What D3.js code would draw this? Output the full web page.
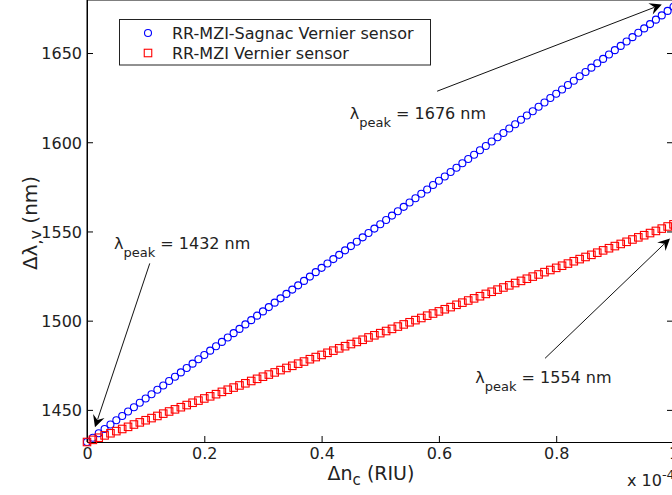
<!DOCTYPE html>
<html><head><meta charset="utf-8">
<script src="https://cdn.jsdelivr.net/npm/d3@7"></script>
<style>
body{margin:0;background:#fff}
svg{display:block}
text{font-family:"DejaVu Sans",sans-serif;fill:#222}
</style>
</head><body>
<svg id="c" width="672" height="495"></svg>
<script>
// ---------------- data ----------------
const xValues = [0,0.01,0.02,0.03,0.04,0.05,0.06,0.07,0.08,0.09,0.10,0.11,0.12,0.13,0.14,0.15,0.16,0.17,0.18,0.19,0.20,0.21,0.22,0.23,0.24,0.25,0.26,0.27,0.28,0.29,0.30,0.31,0.32,0.33,0.34,0.35,0.36,0.37,0.38,0.39,0.40,0.41,0.42,0.43,0.44,0.45,0.46,0.47,0.48,0.49,0.50,0.51,0.52,0.53,0.54,0.55,0.56,0.57,0.58,0.59,0.60,0.61,0.62,0.63,0.64,0.65,0.66,0.67,0.68,0.69,0.70,0.71,0.72,0.73,0.74,0.75,0.76,0.77,0.78,0.79,0.80,0.81,0.82,0.83,0.84,0.85,0.86,0.87,0.88,0.89,0.90,0.91,0.92,0.93,0.94,0.95,0.96,0.97,0.98,0.99,1.00];
const sagnacValues = [1432.0,1434.4,1436.9,1439.3,1441.8,1444.2,1446.6,1449.1,1451.5,1454.0,1456.4,1458.8,1461.3,1463.7,1466.2,1468.6,1471.0,1473.5,1475.9,1478.4,1480.8,1483.2,1485.7,1488.1,1490.6,1493.0,1495.4,1497.9,1500.3,1502.8,1505.2,1507.6,1510.1,1512.5,1515.0,1517.4,1519.8,1522.3,1524.7,1527.2,1529.6,1532.0,1534.5,1536.9,1539.4,1541.8,1544.2,1546.7,1549.1,1551.6,1554.0,1556.4,1558.9,1561.3,1563.8,1566.2,1568.6,1571.1,1573.5,1576.0,1578.4,1580.8,1583.3,1585.7,1588.2,1590.6,1593.0,1595.5,1597.9,1600.4,1602.8,1605.2,1607.7,1610.1,1612.6,1615.0,1617.4,1619.9,1622.3,1624.8,1627.2,1629.6,1632.1,1634.5,1637.0,1639.4,1641.8,1644.3,1646.7,1649.2,1651.6,1654.0,1656.5,1658.9,1661.4,1663.8,1666.2,1668.7,1671.1,1673.6,1676.0];
const mziValues = [1432.0,1433.2,1434.4,1435.7,1436.9,1438.1,1439.3,1440.5,1441.8,1443.0,1444.2,1445.4,1446.6,1447.9,1449.1,1450.3,1451.5,1452.7,1454.0,1455.2,1456.4,1457.6,1458.8,1460.1,1461.3,1462.5,1463.7,1464.9,1466.2,1467.4,1468.6,1469.8,1471.0,1472.3,1473.5,1474.7,1475.9,1477.1,1478.4,1479.6,1480.8,1482.0,1483.2,1484.5,1485.7,1486.9,1488.1,1489.3,1490.6,1491.8,1493.0,1494.2,1495.4,1496.7,1497.9,1499.1,1500.3,1501.5,1502.8,1504.0,1505.2,1506.4,1507.6,1508.9,1510.1,1511.3,1512.5,1513.7,1515.0,1516.2,1517.4,1518.6,1519.8,1521.1,1522.3,1523.5,1524.7,1525.9,1527.2,1528.4,1529.6,1530.8,1532.0,1533.3,1534.5,1535.7,1536.9,1538.1,1539.4,1540.6,1541.8,1543.0,1544.2,1545.5,1546.7,1547.9,1549.1,1550.3,1551.6,1552.8,1554.0];
const xTicks = [0,0.2,0.4,0.6,0.8,1];
const xTickLabels = ["0","0.2","0.4","0.6","0.8","1"];
const yTicks = [1450,1500,1550,1600,1650];
const yTickLabels = ["1450","1500","1550","1600","1650"];
const seriesNames = ["RR-MZI-Sagnac Vernier sensor","RR-MZI Vernier sensor"];
const peakValues = ["1676","1432","1554"];
// annotation anchors in data units: text point, arrow start, arrow tip
const peakTextAt  = [[0.448,1613.3],[0.046,1540.0],[0.662,1464.9]];
const arrowFrom   = [[0.597,1628.6],[0.107,1532.1],[0.781,1478.9]];
const arrowTo     = [[0.980,1677.2],[0.0136,1440.2],[0.994,1546.1]];

// ---------------- layout ----------------
const svg = d3.select("#c");
const L = 87, R = 673.5, B = 442, T = -0.5;
const x = d3.scaleLinear().domain([0,1]).range([L,R]);
const y = d3.scaleLinear().domain([1432,1680]).range([B,T]);

// frame
const frame = svg.append("g");
frame.append("line").attr("x1",L).attr("x2",L).attr("y1",0).attr("y2",B).attr("stroke","#000");
frame.append("line").attr("x1",L).attr("x2",R).attr("y1",0).attr("y2",0).attr("stroke","#000");

// axes
const xAxis = svg.append("g").attr("transform",`translate(0,${B})`)
  .call(d3.axisBottom(x).tickValues(xTicks).tickFormat((d,i)=>xTickLabels[i]).tickSizeInner(-6).tickSizeOuter(0).tickPadding(5.5));
const yAxis = svg.append("g").attr("transform",`translate(${L},0)`)
  .call(d3.axisLeft(y).tickValues(yTicks).tickFormat((d,i)=>yTickLabels[i]).tickSizeInner(-6).tickSizeOuter(0).tickPadding(5));
const yAxisR = svg.append("g").attr("transform",`translate(${R-0.5},0)`)
  .call(d3.axisRight(y).tickValues(yTicks).tickFormat("").tickSizeInner(-6).tickSizeOuter(0));
yAxisR.select(".domain").remove();
[xAxis,yAxis].forEach(g=>{
  g.select(".domain").attr("stroke","#000");
  g.selectAll("text").attr("font-size",16).attr("font-family","DejaVu Sans").attr("fill","#222");
});
yAxis.selectAll("text").attr("dy","0.36em");
svg.selectAll(".tick line").attr("stroke","#000");

// data points
const pts = xValues.map((v,i)=>({x:v, s:sagnacValues[i], m:mziValues[i]}));
svg.append("g").selectAll("circle").data(pts).join("circle")
  .attr("cx",d=>x(d.x)).attr("cy",d=>y(d.s)).attr("r",3.5)
  .attr("fill","none").attr("stroke","#0000ff").attr("stroke-width",1.1);
svg.append("g").selectAll("rect").data(pts).join("rect")
  .attr("x",d=>x(d.x)-3.75).attr("y",d=>y(d.m)-3.75).attr("width",7.5).attr("height",7.5)
  .attr("fill","none").attr("stroke","#ff0000").attr("stroke-width",1.1);

// axis labels
const xl = svg.append("text").attr("x",371).attr("y",480).attr("text-anchor","middle").attr("font-size",19);
xl.append("tspan").text("Δn");
xl.append("tspan").attr("font-size",15).attr("dy",5).text("c");
xl.append("tspan").attr("dy",-5).text(" (RIU)");

const yl = svg.append("text").attr("transform","translate(37,223) rotate(-90)").attr("text-anchor","middle").attr("font-size",20);
yl.append("tspan").text("Δλ");
yl.append("tspan").attr("font-size",16).attr("dy",4).text(",v");
yl.append("tspan").attr("dy",-4).text(" (nm)");

const ex = svg.append("text").attr("x",627).attr("y",486).attr("font-size",16);
ex.append("tspan").text("x 10");
ex.append("tspan").attr("font-size",13).attr("dy",-7).text("-4");

// legend
const lg = svg.append("g");
lg.append("rect").attr("x",119.5).attr("y",19.5).attr("width",311).attr("height",45.5)
  .attr("fill","#fff").attr("stroke","#222");
lg.append("circle").attr("cx",148).attr("cy",33).attr("r",3.5).attr("fill","none").attr("stroke","#0000ff").attr("stroke-width",1.1);
lg.append("rect").attr("x",144.25).attr("y",49.25).attr("width",7.5).attr("height",7.5).attr("fill","none").attr("stroke","#ff0000").attr("stroke-width",1.1);
lg.append("text").attr("x",172).attr("y",39).attr("font-size",16).text(seriesNames[0]);
lg.append("text").attr("x",172).attr("y",58.5).attr("font-size",16).text(seriesNames[1]);

// annotations
const ann = svg.append("g");
peakValues.forEach((pv,i)=>{
  const x0 = x(arrowFrom[i][0]), y0 = y(arrowFrom[i][1]);
  const x1 = x(arrowTo[i][0]), y1 = y(arrowTo[i][1]);
  const ang = Math.atan2(y1-y0, x1-x0);
  const hl = 12;
  ann.append("line").attr("x1",x0).attr("y1",y0)
    .attr("x2",x1-Math.cos(ang)*hl*0.7).attr("y2",y1-Math.sin(ang)*hl*0.7)
    .attr("stroke","#111").attr("stroke-width",1);
  ann.append("path").attr("d",`M0,0L${-hl},${-6}L${-hl*0.65},0L${-hl},6Z`)
    .attr("transform",`translate(${x1},${y1}) rotate(${ang*180/Math.PI})`)
    .attr("fill","#000");
  const t = ann.append("text").attr("x",x(peakTextAt[i][0])).attr("y",y(peakTextAt[i][1])).attr("font-size",16);
  t.append("tspan").text("λ");
  t.append("tspan").attr("font-size",13).attr("dy",8).text("peak");
  t.append("tspan").attr("dy",-8).text(" = " + pv + " nm");
});
</script>
</body></html>
